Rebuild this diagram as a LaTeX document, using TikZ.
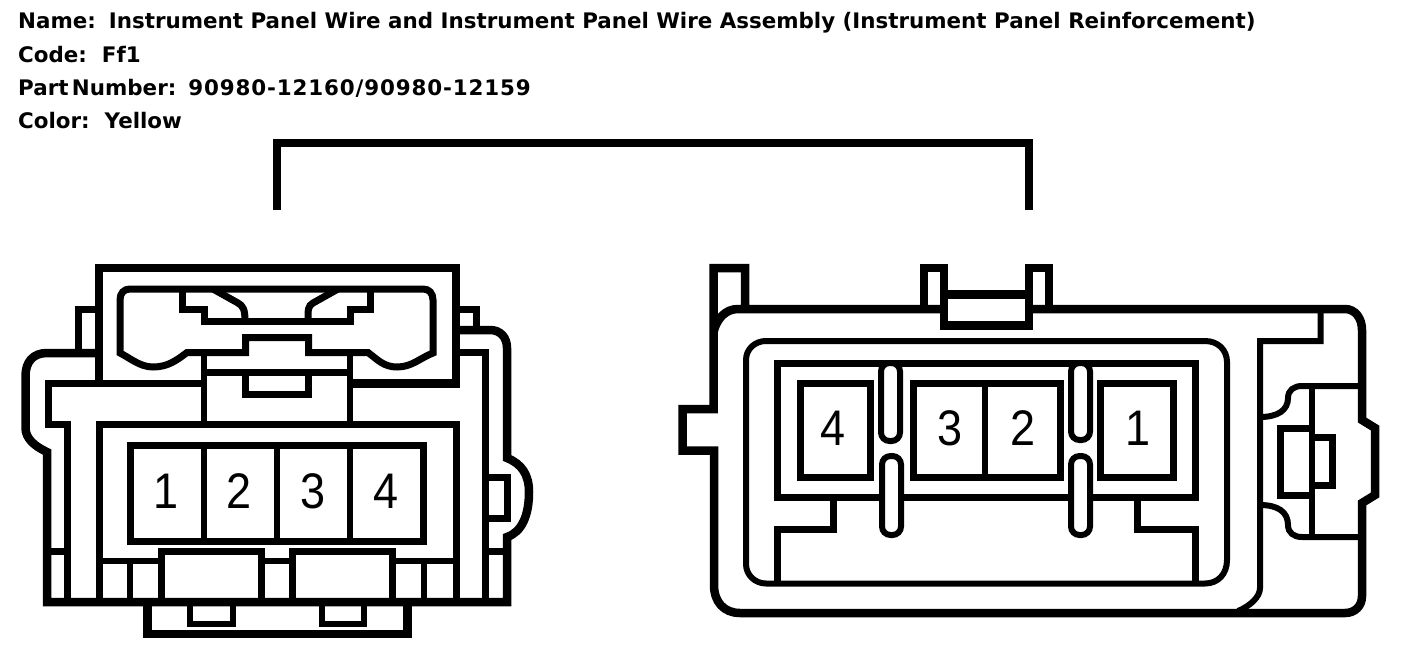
\documentclass[tikz,border=0pt]{standalone}
\usepackage{fontspec}
\setmainfont{Liberation Sans}
\newfontfamily\labelfont{DejaVu Sans}
\newfontfamily\digitfont[LetterSpace=4]{DejaVu Sans}
\newfontfamily\pinfont[FakeStretch=0.9]{Liberation Sans}
\tikzstyle{heavy} = [line width=8.5pt, black]
\tikzstyle{wall} = [line width=7pt, black]
\tikzstyle{fine} = [line width=6pt, black]
\tikzstyle{slot} = [line width=6pt, black, fill=white, rounded corners=8.5pt]
\tikzstyle{pin} = [inner sep=0pt, font=\pinfont\fontsize{50}{50}\selectfont]
\tikzstyle{info} = [anchor=base west, inner sep=0pt, font=\labelfont\bfseries\fontsize{21.4}{24}\selectfont]
\begin{document}
\begin{tikzpicture}[x=1pt,y=-1pt]
      \fill[white] (0,0) rectangle (1408,654);
      \useasboundingbox (0,0) rectangle (1408,654);

      % Header
      \node[info] (name) at (18,28) {Name:\hspace{13pt}Instrument Panel Wire and Instrument Panel Wire Assembly (Instrument Panel Reinforcement)};
      \node[info] (code) at (18,62) {Code:\hspace{15pt}Ff1};
      \node[info] (part) at (18,95) {Part\hspace{-4pt} Number:\hspace{12pt}{\digitfont\bfseries 90980-12160/90980-12159}};
      \node[info] (color) at (18,128) {Color:\hspace{15pt}Yellow};

      % Bracket
      \coordinate (leftend) at (277,210);
      \coordinate (rightend) at (1029,210);
      \coordinate (bracket) at (653,143);
      \draw[heavy] (leftend) |- (bracket) -| (rightend);

      % Left connector, housing
      \draw[heavy] (99,383) -- (99,268) -- (456,268) -- (456,383.5) -- (350,383.5);
      \draw[wall] (204,383.5) -- (48.5,383.5) -- (48.5,424.5) -- (67,424.5) -- (67,602);
      \draw[wall] (99,602) -- (99,424.5) -- (456,424.5) -- (456,602);
      \draw[fine] (204,353) -- (204,424.5);
      \draw[fine] (350,353) -- (350,424.5);
      \draw[wall] (204,372.5) -- (350,372.5);
      \draw[wall] (245.5,372.5) -- (245.5,394.5) -- (308.5,394.5) -- (308.5,372.5);

      % Left connector, cap
      \draw[wall] (120,300) .. controls (120,293) and (124,289) .. (130,289) -- (423,289)
        .. controls (429,289) and (433,293) .. (433,300) -- (433,353)
        .. controls (420,358) and (412,367) .. (397,367) .. controls (384,367) and (378,360) .. (368,352.5)
        -- (308.5,352.5) -- (308.5,337.5) -- (245.5,337.5) -- (245.5,352.5) -- (187,352.5)
        .. controls (177,360) and (168,367) .. (153,367) .. controls (140,367) and (130,358) .. (120,353) -- cycle;
      \draw[wall] (182,289) -- (182,309) -- (204,309) -- (204,321) -- (350,321) -- (350,309) -- (370,309) -- (370,289);
      \draw[wall] (213,289) -- (238,303) .. controls (243,306) and (245,309) .. (245,321);
      \draw[wall] (338,289) -- (313,303) .. controls (308,306) and (308,309) .. (308,321);

      % Left connector, outer wall
      \draw[heavy] (99,353) -- (47,353) .. controls (33,353) and (25.5,362) .. (25.5,376) -- (25.5,428)
        .. controls (25.5,438) and (34,446) .. (47,452) -- (47,602) -- (507,602) -- (507,537)
        .. controls (522,532) and (529,515) .. (529,492) .. controls (529,475) and (522,464) .. (507,458)
        -- (507,348) .. controls (507,337) and (500,330) .. (490,330) -- (456,330);
      \draw[wall] (78,353) -- (78,309) -- (99,309);
      \draw[wall] (456,309) -- (476,309) -- (476,330);
      \draw[wall] (456,352.5) -- (485.5,352.5) -- (485.5,602);
      \draw[wall] (47,551) -- (67,551);
      \draw[wall] (485.5,551) -- (507,551);
      \draw[wall] (485.5,477.5) -- (507,477.5) -- (507,518.5) -- (485.5,518.5);

      % Left connector, bottom
      \draw[fine] (99,561) -- (161.5,561);
      \draw[fine] (261.5,561) -- (292.5,561);
      \draw[fine] (392.5,561) -- (456,561);
      \draw[fine] (130,561) -- (130,602);
      \draw[fine] (423.5,561) -- (423.5,602);
      \draw[wall] (161.5,602) -- (161.5,551.5) -- (261.5,551.5) -- (261.5,602);
      \draw[wall] (292.5,602) -- (292.5,551.5) -- (392.5,551.5) -- (392.5,602);
      \draw[heavy] (147.5,602) -- (147.5,634) -- (407.5,634) -- (407.5,602);
      \draw[fine] (190,602) -- (190,624) -- (233,624) -- (233,602);
      \draw[fine] (321.5,602) -- (321.5,624) -- (364,624) -- (364,602);

      % Left connector, pins
      \draw[wall] (130,445) rectangle (423.5,541);
      \draw[fine] (204,445) -- (204,541);
      \draw[fine] (277,445) -- (277,541);
      \draw[fine] (350,445) -- (350,541);
      \node[pin] (pinA) at (166,491) {1};
      \node[pin] (pinB) at (239,491) {2};
      \node[pin] (pinC) at (313,491) {3};
      \node[pin] (pinD) at (386,491) {4};

      % Right connector, outer wall
      \draw[heavy] (745,309) -- (745,268) -- (713.5,268) -- (713.5,409) -- (682.5,409) -- (682.5,450.5) -- (714,450.5) -- (714,585)
        .. controls (714,602) and (724,613) .. (740,613) -- (1345,613)
        .. controls (1355,613) and (1362,606) .. (1362,596) -- (1362,503) -- (1375,495) -- (1375,428) -- (1362,420) -- (1362,330)
        .. controls (1362,318) and (1355,309) .. (1345,309) -- (738,309) .. controls (726,309) and (717,318) .. (713.5,332);
      \draw[heavy] (924,309) -- (924,268) -- (944,268) -- (944,309);
      \draw[heavy] (1029,309) -- (1029,268) -- (1049,268) -- (1049,309);
      \draw[heavy, fill=white] (944,294.5) -- (1029,294.5) -- (1029,325.5) -- (944,325.5) -- cycle;

      % Right connector, inner wall
      \draw[fine] (766,341) -- (1205,341) .. controls (1218,341) and (1227,350) .. (1227,362) -- (1227,560)
        .. controls (1227,574) and (1218,583.5) .. (1205,583.5) -- (766,583.5)
        .. controls (755,583.5) and (746,575) .. (746,564) -- (746,360) .. controls (746,349) and (755,341) .. (766,341) -- cycle;
      \draw[wall] (777.5,497) -- (777.5,363.5) -- (1195.5,363.5) -- (1195.5,497) -- cycle;
      \draw[wall] (833.5,497) -- (833.5,529.5) -- (777.5,529.5) -- (777.5,583);
      \draw[wall] (1137.5,497) -- (1137.5,529.5) -- (1195.5,529.5) -- (1195.5,583);

      % Right connector, latch
      \draw[fine] (1320.5,309) -- (1320.5,341) -- (1260,341) -- (1260,588) .. controls (1260,597) and (1250,606) .. (1238,611);
      \draw[fine] (1260,417) .. controls (1278,417) and (1288,410) .. (1288,398) .. controls (1288,390) and (1294,386) .. (1302,386) -- (1362,386);
      \draw[fine] (1260,505) .. controls (1278,505) and (1288,512) .. (1288,525) .. controls (1288,533) and (1294,537) .. (1302,537) -- (1362,537);
      \draw[fine] (1311.5,386) -- (1311.5,537);
      \draw[wall] (1311.5,428.5) -- (1280,428.5) -- (1280,495.5) -- (1311.5,495.5);
      \draw[wall] (1311.5,437.5) -- (1332,437.5) -- (1332,485) -- (1311.5,485);

      % Right connector, pins
      \draw[wall] (800,383.5) rectangle (870,477);
      \draw[wall] (913.5,383.5) rectangle (1060,477);
      \draw[fine] (985,383.5) -- (985,477);
      \draw[wall] (1100.5,383.5) rectangle (1173.5,477);
      \node[pin] (pinW) at (833,428) {4};
      \node[pin] (pinX) at (950,428) {3};
      \node[pin] (pinY) at (1023,428) {2};
      \node[pin] (pinZ) at (1138,428) {1};

      % Slots
      \draw[slot] (881,363) rectangle (900,441);
      \draw[slot] (882,456) rectangle (901,535);
      \draw[slot] (1071,363) rectangle (1090,440);
      \draw[slot] (1071,456) rectangle (1090,535);
    \end{tikzpicture}
\end{document}
